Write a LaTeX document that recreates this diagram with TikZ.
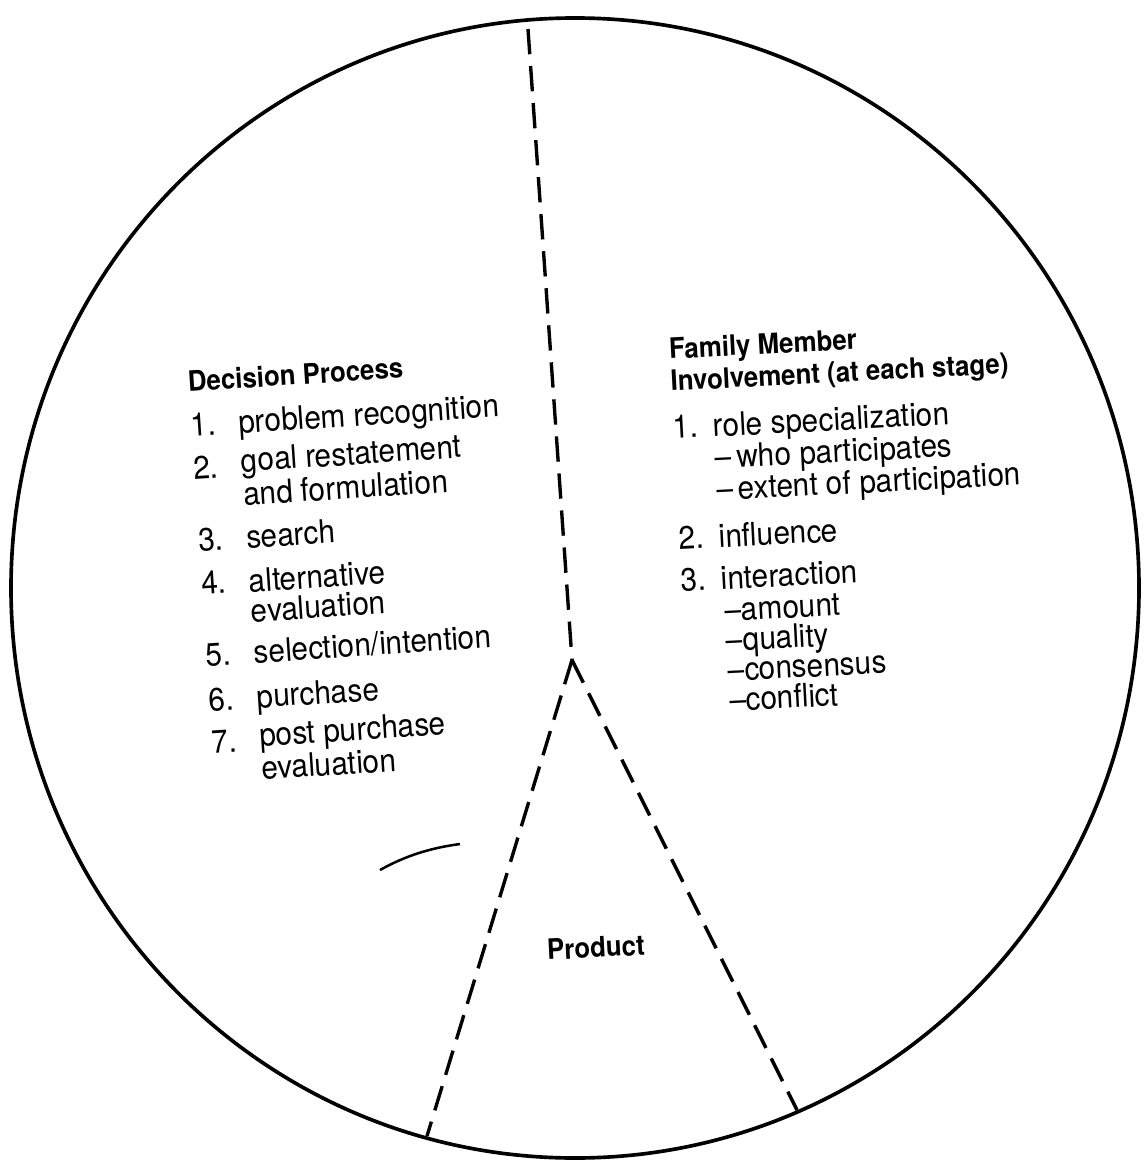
\documentclass[tikz,border=0pt]{standalone}
\usepackage{fontspec}
\setmainfont{TeX Gyre Heros}[FakeStretch=0.92]
\usepackage{tikz}

\begin{document}
\begin{tikzpicture}[x=0.0125cm, y=-0.0125cm,
  rim/.style={line width=1.3pt},
  split/.style={line width=1.2pt, dash pattern=on 9pt off 4.2pt},
  head/.style={font=\fontsize{10}{11.4}\selectfont\bfseries, anchor=base west,
               inner sep=0pt, align=left},
  item/.style={font=\fontsize{11.5}{10.7}\selectfont, anchor=base west,
               inner sep=0pt, align=left}
]
\useasboundingbox (0,0) rectangle (1144,1163);

% outer circle and the three sectors
\draw[rim] (575,588) ellipse [x radius=564, y radius=570];
\coordinate (hub) at (572,660);
\coordinate (top) at (528,29);
\coordinate (lft) at (427,1136);
\coordinate (rgt) at (797,1110);
\draw[split] (top) -- (hub);
\draw[split] (hub) -- (lft);
\draw[split] (hub) -- (rgt);

% stray stroke
\draw[line width=0.9pt] (380,870) .. controls (405,856) and (430,848) .. (460,844);

% left sector (multi-line nodes sit on their last baseline)
\begin{scope}[shift={(188,392)}, rotate=3.8, every node/.append style={rotate=3.8}]
\node[head] (dp)    at (0,0)    {Decision Process};
\node[item] (dp-n1) at (0,45)   {1.};
\node[item] (dp-s1) at (48,45)  {problem recognition};
\node[item] (dp-n2) at (0,88)   {2.};
\node[item] (dp-s2) at (48,117) {goal restatement\\and formulation};
\node[item] (dp-n3) at (0,160)  {3.};
\node[item] (dp-s3) at (48,160) {search};
\node[item] (dp-n4) at (0,203)  {4.};
\node[item] (dp-s4) at (48,234) {alternative\\evaluation};
\node[item] (dp-n5) at (0,275)  {5.};
\node[item] (dp-s5) at (48,275) {selection/intention};
\node[item] (dp-n6) at (0,320)  {6.};
\node[item] (dp-s6) at (48,320) {purchase};
\node[item] (dp-n7) at (0,362)  {7.};
\node[item] (dp-s7) at (48,392) {post purchase\\evaluation};
\end{scope}

% right sector
\begin{scope}[shift={(669,359)}, rotate=3, every node/.append style={rotate=3}]
\node[head] (fm)     at (0,32)   {Family Member\\Involvement (at each stage)};
\node[item] (fm-n1)  at (0,80)   {1.};
\node[item] (fm-s1)  at (40,80)  {role specialization};
\node[item, font=\fontsize{11.5}{11.4}\selectfont] (fm-s1a) at (40,144)
  {--\,who participates\\--\,extent of participation};
\node[item] (fm-n2)  at (0,191)  {2.};
\node[item] (fm-s2)  at (40,191) {influence};
\node[item] (fm-n3)  at (0,233)  {3.};
\node[item] (fm-s3)  at (40,233) {interaction};
\node[item] (fm-s3a) at (42,355) {--amount\\--quality\\--consensus\\--conflict};
\end{scope}

% bottom sector
\node[head, rotate=3] (prod) at (547,960) {Product};

\end{tikzpicture}
\end{document}
